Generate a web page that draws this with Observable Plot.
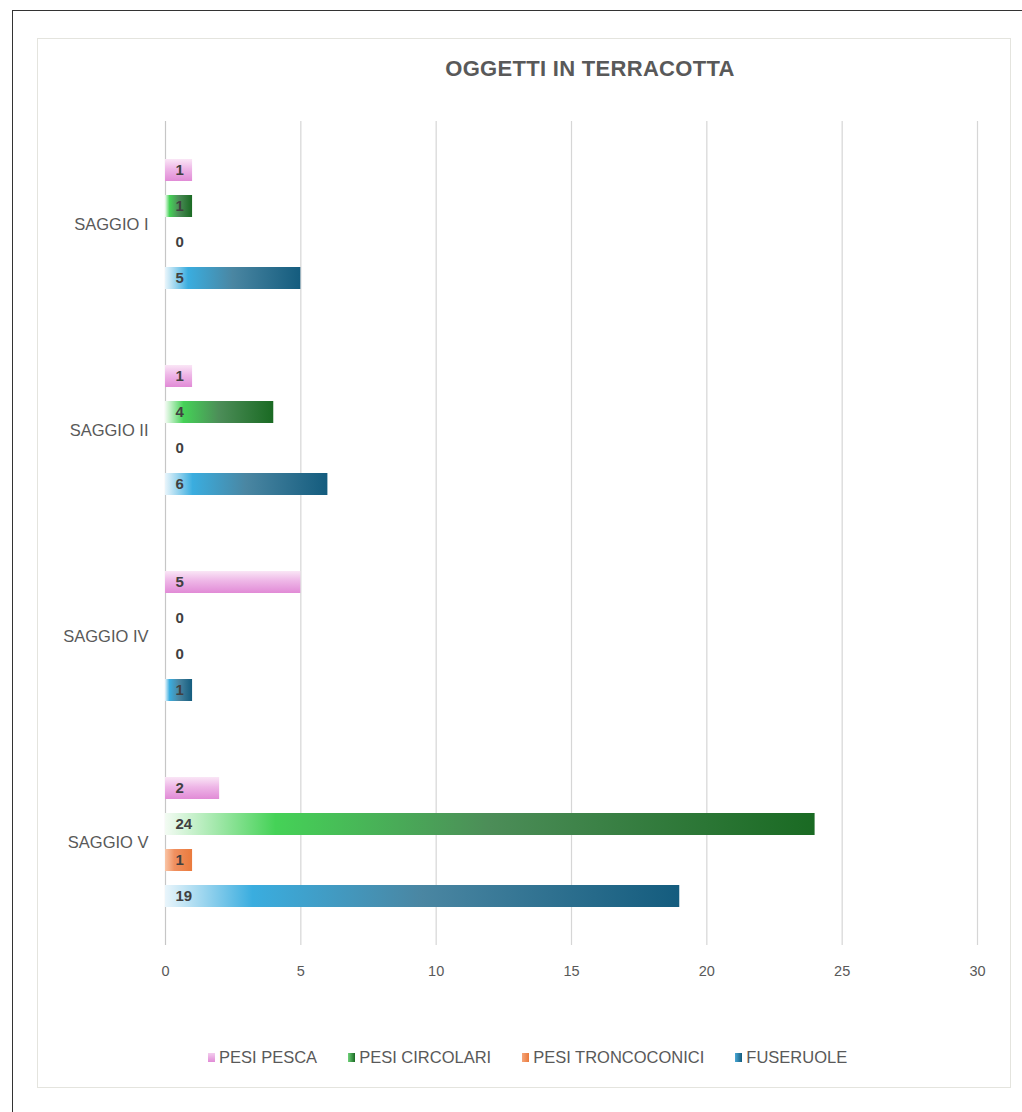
<!DOCTYPE html>
<html>
<head>
<meta charset="utf-8">
<script src="https://cdn.jsdelivr.net/npm/d3@7"></script>
<script src="https://cdn.jsdelivr.net/npm/@observablehq/plot@0.6"></script>
<style>
  html, body { margin: 0; padding: 0; background: #fff; }
  body { width: 1022px; height: 1112px; position: relative; overflow: hidden; font-family: "Liberation Sans", Arial, Helvetica, sans-serif; }
  #outer { position: absolute; left: 12px; top: 10px; width: 1100px; height: 1200px; border: 1px solid #333; box-sizing: border-box; }
  #panel { position: absolute; left: 37px; top: 38px; width: 974px; height: 1050px; border: 1px solid #e4e4de; box-sizing: border-box; background: #fff; }
  #title { position: absolute; top: 56px; left: 590px; transform: translateX(-50%); font-size: 22px; font-weight: bold; color: #595959; white-space: nowrap; letter-spacing: 0.3px; }
  #chart { position: absolute; left: 37px; top: 100px; }
  #legend { position: absolute; left: 208px; top: 1048px; display: flex; align-items: center; font-size: 16.5px; color: #595959; white-space: nowrap; }
  .item { display: flex; align-items: center; margin-right: 31px; }
  .sw { width: 7px; height: 9px; margin-right: 4px; display: inline-block; }
</style>
</head>
<body>
<div id="outer"></div>
<div id="panel"></div>
<div id="title">OGGETTI IN TERRACOTTA</div>
<div id="chart"></div>
<div id="legend"></div>
<script>
const saggi = ["SAGGIO I", "SAGGIO II", "SAGGIO IV", "SAGGIO V"];
const types = ["PESI PESCA", "PESI CIRCOLARI", "PESI TRONCOCONICI", "FUSERUOLE"];
const pesiPesca = [1, 1, 5, 2];
const pesiCircolari = [1, 4, 0, 24];
const pesiTroncoconici = [0, 0, 0, 1];
const fuseruole = [5, 6, 1, 19];
const xTicks = [0, 5, 10, 15, 20, 25, 30];

const series = [pesiPesca, pesiCircolari, pesiTroncoconici, fuseruole];
const gradIds = ["gPesca", "gCirc", "gTronco", "gFus"];
const data = [];
types.forEach((t, ti) => saggi.forEach((s, si) => data.push({saggio: s, type: t, value: series[ti][si]})));

const barMarks = types.map((t, ti) =>
  Plot.barX(data.filter(d => d.type === t), {
    x: "value", y: "type", fy: "saggio", fill: `url(#${gradIds[ti]})`
  })
);

const chart = Plot.plot({
  width: 974,
  height: 885,
  marginLeft: 128,
  marginRight: 34,
  marginTop: 20,
  marginBottom: 40,
  style: {fontFamily: "'Liberation Sans', Arial, Helvetica, sans-serif", background: "transparent"},
  x: {domain: [0, 30], ticks: xTicks, label: null},
  y: {domain: types, paddingInner: 0.39, paddingOuter: 1.05, axis: null},
  fy: {domain: saggi, padding: 0, label: null},
  marks: [
    Plot.ruleX(xTicks, {stroke: d => d === 0 ? "#c6c6c6" : "#d6d6d6", strokeWidth: 1.2}),
    ...barMarks,
    Plot.text(data, {
      x: d => 0, y: "type", fy: "saggio", text: d => String(d.value),
      dx: 10, textAnchor: "start", fontWeight: "bold", fontSize: 15, fill: "#404040"
    }),
    Plot.axisX({ticks: xTicks, tickSize: 0, tickPadding: 20, fontSize: 14.5, fill: "#595959", label: null}),
    Plot.axisFy({anchor: "left", tickSize: 0, tickPadding: 17, fontSize: 16.5, fill: "#595959", label: null})
  ]
});

// gradients
const defs = d3.select(chart).insert("defs", ":first-child");
function lin(id, x2, y2, stops) {
  const g = defs.append("linearGradient").attr("id", id)
    .attr("x1", 0).attr("y1", 0).attr("x2", x2).attr("y2", y2);
  stops.forEach(([o, c]) => g.append("stop").attr("offset", o).attr("stop-color", c));
}
lin("gPesca", 0, 1, [[0, "#fae6f6"], [0.45, "#eeb6e7"], [1, "#e18bd6"]]);
lin("gCirc", 1, 0, [[0, "#f3fbf3"], [0.17, "#45d257"], [0.5, "#4c8d58"], [1, "#1a6a23"]]);
lin("gTronco", 1, 0, [[0, "#f9c5a6"], [0.35, "#f09060"], [1, "#ea7a3c"]]);
lin("gFus", 1, 0, [[0, "#e9f5fb"], [0.17, "#3aaddf"], [0.5, "#4a86a2"], [1, "#145c7e"]]);

document.getElementById("chart").appendChild(chart);

// legend
const swatchCss = [
  "linear-gradient(to bottom, #f3cdee, #e18bd6)",
  "linear-gradient(to right, #6fd27a, #1a6a23)",
  "linear-gradient(to right, #f5a57a, #ea7a3c)",
  "linear-gradient(to right, #4aa8d6, #145c7e)"
];
const legend = document.getElementById("legend");
types.forEach((t, i) => {
  const it = document.createElement("div");
  it.className = "item";
  const sw = document.createElement("span");
  sw.className = "sw";
  sw.style.background = swatchCss[i];
  const lb = document.createElement("span");
  lb.textContent = t;
  it.appendChild(sw); it.appendChild(lb);
  legend.appendChild(it);
});
</script>
</body>
</html>
